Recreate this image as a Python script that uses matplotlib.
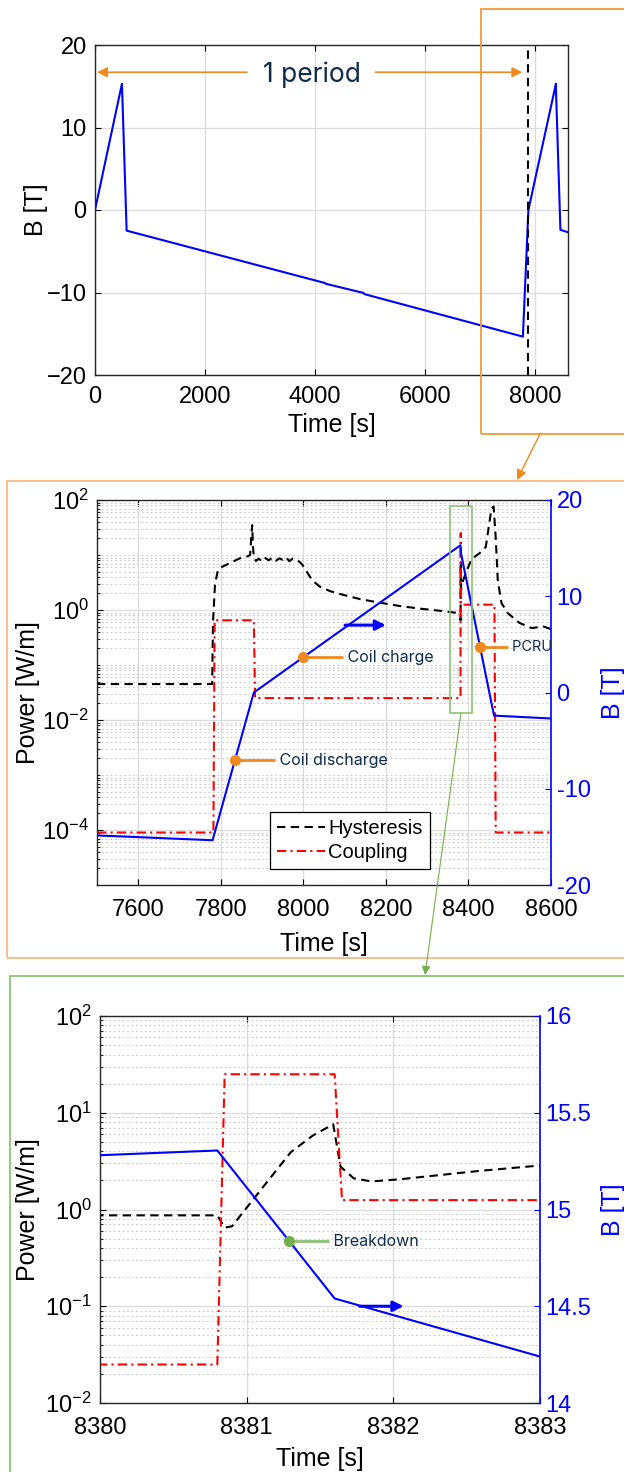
import numpy as np
import matplotlib
matplotlib.use("Agg")
import matplotlib.pyplot as plt
from matplotlib.patches import Rectangle, FancyArrowPatch
from matplotlib.ticker import (LogLocator, FixedLocator, NullFormatter,
                               NullLocator, FormatStrFormatter)

plt.rcParams["font.family"] = ["Liberation Sans", "DejaVu Sans"]
plt.rcParams["mathtext.fontset"] = "custom"
plt.rcParams["mathtext.rm"] = "Liberation Sans"
plt.rcParams["mathtext.it"] = "Liberation Sans:italic"
plt.rcParams["mathtext.default"] = "regular"

# ---------------------------------------------------------------- data
# magnetic field over one full cycle plus the start of the next one
b_time = [0, 490, 575, 4180, 4200, 4880, 4900, 7780, 7880,
          8380.8, 8381.6, 8383, 8462, 8600]
b_field = [0.0, 15.3, -2.5, -8.85, -8.95, -10.05, -10.2, -15.35, 0.0,
           15.305, 14.54, 14.24, -2.4, -2.7]
period_end = 7875

# hysteresis loss (W/m)
hyst_time = [7500, 7779, 7781, 7786, 7793, 7803, 7820, 7846, 7866, 7871,
             7874, 7876, 7878, 7880, 7885, 7892, 7900, 7908, 7916, 7925,
             7934, 7942, 7950, 7958, 7966, 7974, 7982, 7990, 7998, 8006,
             8021, 8040, 8065, 8089, 8137, 8185, 8234, 8282, 8330, 8360,
             8380, 8380.8, 8380.85, 8380.9, 8381.06, 8381.3, 8381.45, 8381.59, 8381.64, 8381.73,
             8381.85, 8382.04, 8382.58, 8383, 8395, 8408, 8427, 8442, 8449, 8456,
             8461, 8466, 8471, 8480, 8495, 8524, 8553, 8582, 8600]
hyst_power = [0.045, 0.045, 0.6, 3.0, 5.3, 6.1, 7.0, 8.7, 9.5, 10.0,
              22, 35, 14, 9.5, 7.8, 8.6, 7.6, 8.8, 8.0, 9.0,
              7.9, 8.7, 8.2, 9.1, 7.7, 8.6, 8.0, 7.6, 6.6, 5.3,
              3.5, 2.65, 2.2, 1.95, 1.58, 1.36, 1.18, 1.06, 0.97, 0.91,
              0.87, 0.87, 0.65, 0.67, 1.36, 3.9, 5.8, 7.6, 2.77, 2.1,
              1.95, 2.05, 2.5, 2.85, 5.0, 8.5, 10.8, 14, 32, 71,
              76, 21, 3.5, 1.34, 0.88, 0.58, 0.47, 0.5, 0.45]

# coupling loss (W/m)
coup_time = [7500, 7782, 7785, 7880, 7883, 8380.8, 8380.85, 8381.6, 8381.65,
             8463, 8466, 8600]
coup_power = [9e-5, 9e-5, 0.65, 0.65, 0.025, 0.025, 25, 25, 1.25,
              1.25, 9e-5, 9e-5]

# annotated instants
t_discharge, t_charge, t_pcru, t_breakdown = 7834, 8000, 8428, 8381.29

# ---------------------------------------------------------------- style
W, H = 624, 1472
fig = plt.figure(figsize=(W / 100, H / 100), dpi=100)


def box(l, t, r, b):
    return [l / W, 1 - b / H, (r - l) / W, (b - t) / H]


def fpt(x, y):
    return (x / W, 1 - y / H)


BLUE = "#0000ff"
RED = "#ff0000"
ORANGE = "#ef8a1e"
ORANGE_LIGHT = "#f6bf94"
GREEN = "#74b04c"
GREEN_LIGHT = "#8cc474"
NAVY = "#0f2d4b"
TICK_FS = 17
LABEL_FS = 18
NOTE_FONT = ["Inter", "DejaVu Sans"]

HYST_KW = dict(color="black", lw=1.5, dashes=(4, 2.6))
COUP_KW = dict(color=RED, lw=1.5, dashes=(4.5, 2, 1, 2))
B_KW = dict(color=BLUE, lw=1.5)


def style_axis(ax, xpad=10, ypad=6):
    ax.tick_params(which="both", direction="in", top=True, right=True,
                   labelsize=TICK_FS)
    ax.tick_params(which="major", length=4.5, width=0.8)
    ax.tick_params(which="minor", length=2.5, width=0.6)
    ax.tick_params(axis="x", pad=xpad)
    ax.tick_params(axis="y", pad=ypad)
    for s in ax.spines.values():
        s.set_linewidth(1.0)
        s.set_color("#262626")
    ax.set_axisbelow(True)
    ax.grid(True, which="major", color="#dcdcdc", lw=0.9)


def style_log(ax, major):
    ax.set_yscale("log")
    ax.yaxis.set_major_locator(FixedLocator(major))
    ax.yaxis.set_minor_locator(LogLocator(base=10, subs=np.arange(1, 10), numticks=30))
    ax.yaxis.set_minor_formatter(NullFormatter())
    ax.xaxis.set_minor_locator(NullLocator())
    ax.grid(True, which="minor", axis="y", color="#c8c8c8", lw=0.8,
            ls=(0, (1.5, 2.5)))


def style_right(ax2, ticks, lim):
    ax2.set_ylim(*lim)
    ax2.set_yticks(ticks)
    ax2.yaxis.set_major_formatter(FormatStrFormatter("%g"))
    ax2.tick_params(axis="y", direction="in", colors=BLUE, labelsize=TICK_FS,
                    length=4.5, pad=4)
    ax2.spines["right"].set_color(BLUE)
    ax2.spines["right"].set_linewidth(1.2)
    for k in ("left", "top", "bottom"):
        ax2.spines[k].set_visible(False)


def note(ax, x, y, x_end, text, mcolor, lcolor, fs=11.5):
    ax.plot([x, x_end], [y, y], color=lcolor, lw=2, solid_capstyle="butt", zorder=5)
    ax.plot([x], [y], "o", color=mcolor, ms=7, zorder=6)
    ax.text(x_end, y, " " + text, color=NAVY, fontsize=fs, family=NOTE_FONT,
            va="center", ha="left", zorder=6)


def b_arrow(ax, x0, x1, y):
    ax.annotate("", xy=(x1, y), xytext=(x0, y),
                arrowprops=dict(arrowstyle="-|>", color=BLUE, lw=2.2,
                                mutation_scale=15, shrinkA=0, shrinkB=0),
                zorder=6)


# ---------------------------------------------------------------- panel 1
ax1 = fig.add_axes(box(95, 45, 568, 375))
style_axis(ax1, xpad=8)
ax1.plot(b_time, b_field, **B_KW)
ax1.axvline(period_end, color="black", lw=1.5, dashes=(4, 2.6))
ax1.set_xlim(0, 8600)
ax1.set_ylim(-20, 20)
ax1.set_xticks([0, 2000, 4000, 6000, 8000])
ax1.set_yticks([-20, -10, 0, 10, 20])
ax1.set_xlabel("Time [s]", fontsize=LABEL_FS)
ax1.set_ylabel("B [T]", fontsize=LABEL_FS)
ax1.xaxis.set_label_coords(0.5, -0.115)
ax1.yaxis.set_label_coords(-0.1, 0.5)

arrow_kw = dict(arrowstyle="-|>", color=ORANGE, lw=1.2, mutation_scale=15,
                shrinkA=0, shrinkB=0)
ax1.annotate("", xy=(36, 16.7), xytext=(2760, 16.7), arrowprops=arrow_kw)
ax1.annotate("", xy=(7770, 16.7), xytext=(5100, 16.7), arrowprops=arrow_kw)
ax1.text(3950, 16.4, "1 period", color=NAVY, fontsize=19, family=NOTE_FONT,
         ha="center", va="center")

# ---------------------------------------------------------------- panel 2
ax2 = fig.add_axes(box(97, 500, 551, 885))
style_axis(ax2)
style_log(ax2, [1e-4, 1e-2, 1e0, 1e2])
h_line, = ax2.plot(hyst_time, hyst_power, label="Hysteresis", **HYST_KW)
c_line, = ax2.plot(coup_time, coup_power, label="Coupling", **COUP_KW)
ax2.set_xlim(7500, 8600)
ax2.set_ylim(1e-5, 1e2)
ax2.set_xticks([7600, 7800, 8000, 8200, 8400, 8600])
ax2.spines["right"].set_visible(False)
ax2.tick_params(axis="y", right=False)
ax2.set_xlabel("Time [s]", fontsize=LABEL_FS)
ax2.set_ylabel("Power [W/m]", fontsize=LABEL_FS)
ax2.xaxis.set_label_coords(0.5, -0.122)
ax2.yaxis.set_label_coords(-0.126, 0.5)
leg = ax2.legend(handles=[h_line, c_line], loc="upper left",
                 bbox_to_anchor=(0.381, 0.19), borderaxespad=0,
                 fontsize=14.5, handlelength=2.4, handletextpad=0.15,
                 borderpad=0.35, labelspacing=0.25, fancybox=False,
                 framealpha=1, edgecolor="black")
leg.get_frame().set_linewidth(0.9)

ax2b = ax2.twinx()
style_right(ax2b, [-20, -10, 0, 10, 20], (-20, 20))
ax2b.plot(b_time, b_field, **B_KW)
ax2b.set_ylabel("B [T]", color=BLUE, fontsize=LABEL_FS)
ax2b.yaxis.set_label_coords(1.11, 0.5)
ax2b.add_patch(Rectangle((8355, -2.1), 54, 21.5, fill=False, ec=GREEN_LIGHT,
                         lw=1.2, zorder=4))
note(ax2b, t_discharge, np.interp(t_discharge, b_time, b_field), 7931,
     "Coil discharge", ORANGE, ORANGE)
note(ax2b, t_charge, np.interp(t_charge, b_time, b_field), 8095,
     "Coil charge", ORANGE, ORANGE)
note(ax2b, t_pcru, np.interp(t_pcru, b_time, b_field), 8495,
     "PCRU", ORANGE, ORANGE, fs=10.5)
b_arrow(ax2b, 8101, 8200, 7.0)

# ---------------------------------------------------------------- panel 3
ax3 = fig.add_axes(box(100, 1016, 540, 1403))
style_axis(ax3)
style_log(ax3, [1e-2, 1e-1, 1e0, 1e1, 1e2])
ax3.plot(hyst_time, hyst_power, **HYST_KW)
ax3.plot(coup_time, coup_power, **COUP_KW)
ax3.set_xlim(8380, 8383)
ax3.set_ylim(1e-2, 1e2)
ax3.set_xticks([8380, 8381, 8382, 8383])
ax3.spines["right"].set_visible(False)
ax3.tick_params(axis="y", right=False)
ax3.set_xlabel("Time [s]", fontsize=LABEL_FS)
ax3.set_ylabel("Power [W/m]", fontsize=LABEL_FS)
ax3.xaxis.set_label_coords(0.5, -0.113)
ax3.yaxis.set_label_coords(-0.136, 0.5)

ax3b = ax3.twinx()
style_right(ax3b, [14, 14.5, 15, 15.5, 16], (14, 16))
ax3b.plot(b_time, b_field, **B_KW)
ax3b.set_ylabel("B [T]", color=BLUE, fontsize=LABEL_FS)
ax3b.yaxis.set_label_coords(1.139, 0.5)
note(ax3b, t_breakdown, np.interp(t_breakdown, b_time, b_field), 8381.56,
     "Breakdown", GREEN, GREEN_LIGHT)
b_arrow(ax3b, 8381.77, 8382.07, 14.5)

# ---------------------------------------------------------------- frames and links
fig.add_artist(Rectangle(fpt(481, 434), (640 - 481) / W, (434 - 9) / H,
                         transform=fig.transFigure, fill=False, ec="#f29a38", lw=1.3))
fig.add_artist(Rectangle(fpt(7, 958), (640 - 7) / W, (958 - 481) / H,
                         transform=fig.transFigure, fill=False, ec=ORANGE_LIGHT, lw=1.5))
fig.add_artist(Rectangle(fpt(10, 1490), (640 - 10) / W, (1490 - 976) / H,
                         transform=fig.transFigure, fill=False, ec=GREEN_LIGHT, lw=1.3))
fig.add_artist(FancyArrowPatch(fpt(540, 434), fpt(517, 480), transform=fig.transFigure,
                               arrowstyle="-|>", mutation_scale=15, color=ORANGE,
                               lw=1.0, shrinkA=0, shrinkB=0))
fig.add_artist(FancyArrowPatch(fpt(461, 713), fpt(425, 975), transform=fig.transFigure,
                               arrowstyle="-|>", mutation_scale=13, color=GREEN,
                               lw=0.8, shrinkA=0, shrinkB=0))

fig.savefig("out.png", dpi=100)
